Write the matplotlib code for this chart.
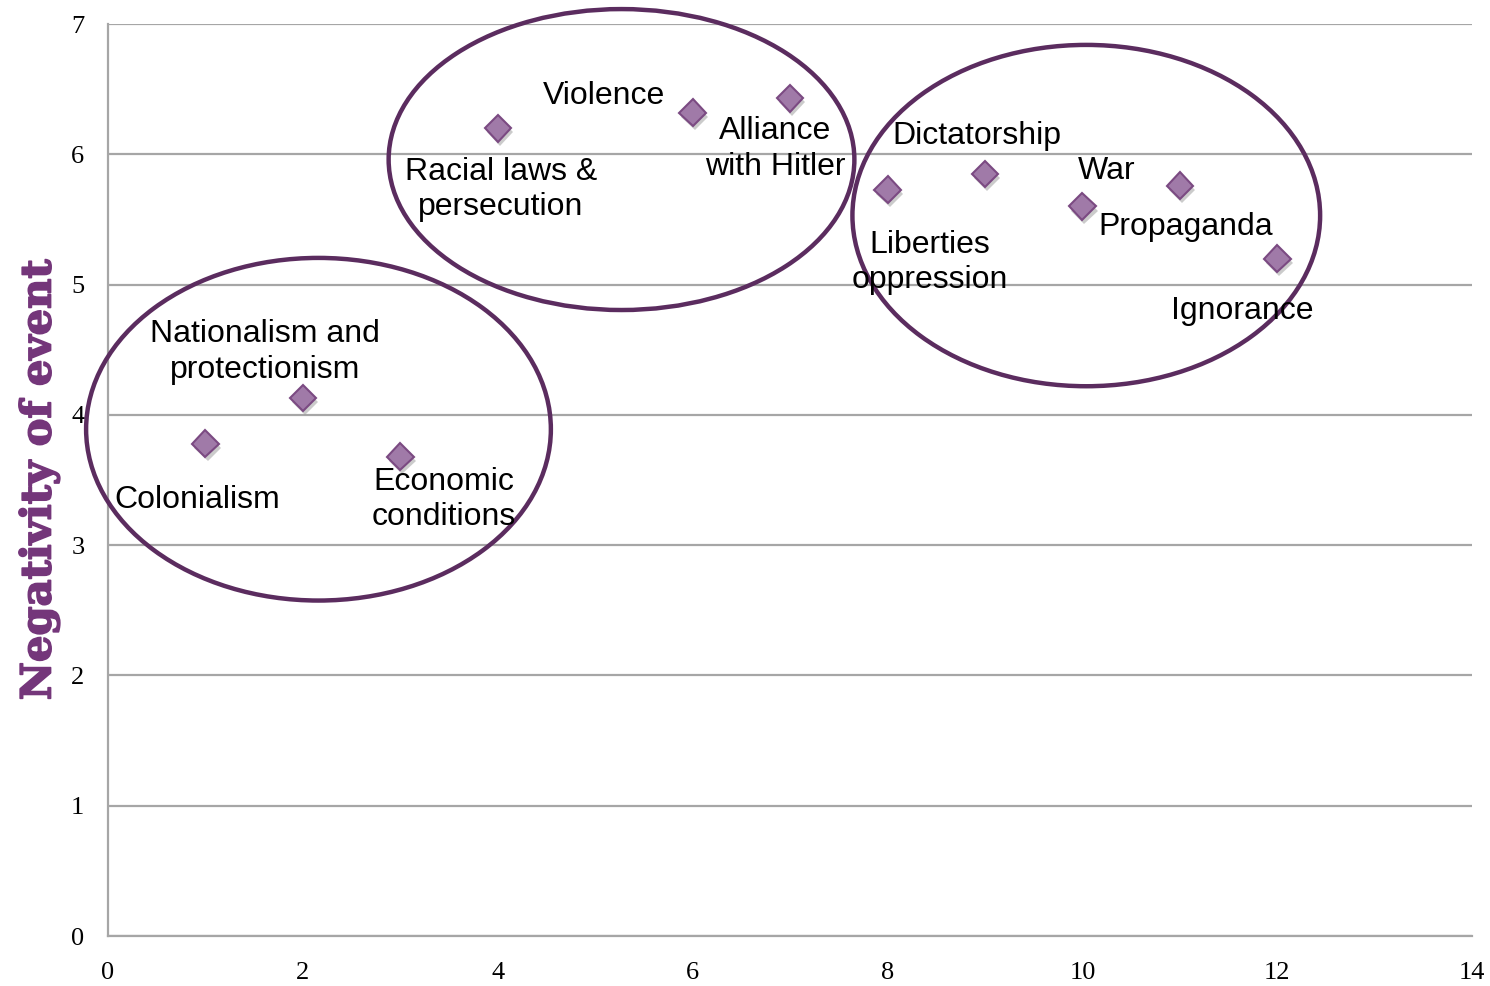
import matplotlib.pyplot as plt
from matplotlib.patches import Ellipse
import matplotlib.patheffects as pe

# data
x_vals = [1, 2, 3, 4, 6, 7, 8, 9, 10, 11, 12]
y_vals = [3.78, 4.13, 3.68, 6.20, 6.32, 6.43, 5.73, 5.85, 5.60, 5.76, 5.20]
labels = ['Colonialism', 'Nationalism and\nprotectionism', 'Economic\nconditions',
          'Racial laws &\npersecution', 'Violence', 'Alliance\nwith Hitler',
          'Liberties\noppression', 'Dictatorship', 'Propaganda', 'War', 'Ignorance']
label_x = [0.92, 1.61, 3.45, 4.03, 5.09, 6.85, 8.43, 8.92, 11.06, 10.25, 11.64]
label_y = [3.35, 4.48, 3.35, 5.73, 6.45, 6.04, 5.17, 6.14, 5.44, 5.87, 4.80]

# group ellipses: center x, center y, width, height
group_cx = [2.16, 5.27, 10.04]
group_cy = [3.89, 5.96, 5.53]
group_w = [4.77, 4.78, 4.80]
group_h = [2.63, 2.31, 2.62]

x_ticks = [0, 2, 4, 6, 8, 10, 12, 14]
y_ticks = [0, 1, 2, 3, 4, 5, 6, 7]

fig = plt.figure(figsize=(14.9, 9.86), dpi=100)
ax = fig.add_axes([0.0725, 0.0507, 0.9155, 0.9249])

ax.set_xlim(0, 14)
ax.set_ylim(0, 7)
ax.set_xticks(x_ticks)
ax.set_yticks(y_ticks)
ax.set_xticklabels([str(v) for v in x_ticks], fontsize=19, family='Liberation Serif')
ax.set_yticklabels([str(v) for v in y_ticks], fontsize=19, family='Liberation Serif')
ax.tick_params(axis='x', length=0, pad=19)
ax.tick_params(axis='y', length=0, pad=17)
ax.grid(axis='y', color='#a6a6a6', linewidth=1.6)
ax.set_axisbelow(True)
for side in ['top', 'right']:
    ax.spines[side].set_visible(False)
for side in ['left', 'bottom']:
    ax.spines[side].set_color('#a6a6a6')
    ax.spines[side].set_linewidth(1.6)

ax.plot(x_vals, y_vals, linestyle='none', marker='D', markersize=13.5,
        markerfacecolor='#a07aa8', markeredgecolor='#7b4a82', markeredgewidth=1.5,
        zorder=4,
        path_effects=[pe.SimplePatchShadow(offset=(1.5, -3), shadow_rgbFace='#999999', alpha=0.5),
                      pe.Normal()])

for t, tx, ty in zip(labels, label_x, label_y):
    ax.text(tx, ty, t, ha='center', va='center', fontsize=23,
            family='Liberation Sans', linespacing=1.25, zorder=5)

for cx, cy, w, h in zip(group_cx, group_cy, group_w, group_h):
    e = Ellipse((cx, cy), w, h, fill=False, edgecolor='#5b2c5f', linewidth=3.2,
                clip_on=False, zorder=3)
    ax.add_patch(e)

ylab = ax.set_ylabel('Negativity of event', fontsize=30, fontweight='bold',
                     family='DejaVu Serif', color='#74367a', labelpad=8)
ylab.set_path_effects([pe.withStroke(linewidth=1.2, foreground='#74367a')])

fig.savefig('out.png', dpi=100)
